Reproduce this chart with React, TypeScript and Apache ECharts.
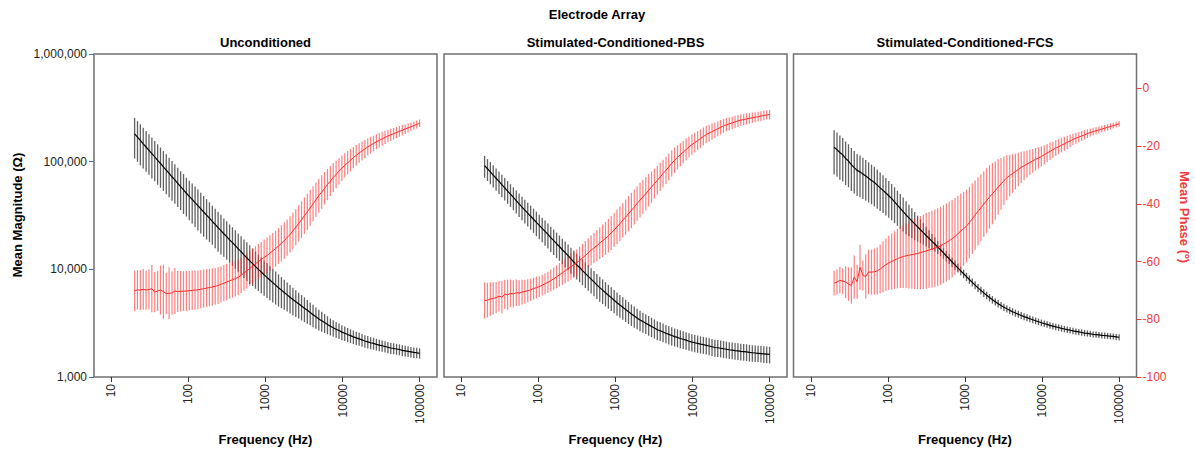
import { useEffect, useRef } from 'react';
import * as echarts from 'echarts';

// Frequencies (Hz)
const freq = [
  20, 21.8, 23.75, 25.88, 28.21, 30.74, 33.5, 36.51, 39.79, 43.36,
  47.27, 51.5, 56.1, 61.2, 66.6, 72.6, 79.2, 86.3, 94.0, 102.5,
  111.8, 121.8, 132.7, 144.6, 157.6, 171.9, 187.3, 204.1, 222.4, 242.4,
  264.2, 287.9, 313.8, 342.0, 372.7, 406.2, 442.7, 482.4, 525.8, 573.0,
  624.5, 680.5, 741.7, 808.3, 880.8, 960.2, 1046, 1140, 1243, 1354,
  1476, 1609, 1753, 1910, 2082, 2269, 2473, 2695, 2937, 3201,
  3490, 3802, 4143, 4515, 4921, 5368, 5850, 6375, 6948, 7571,
  8252, 8993, 9800, 10680, 11640, 12680, 13820, 15060, 16420, 17890,
  19500, 21250, 23160, 25240, 27500, 29990, 32680, 35610, 38810, 42290,
  46100, 50240, 54750, 59670, 65020, 70870, 77240, 84170, 91730, 100000,
];

// Unconditioned
const p1Mag = [
  181000, 168700, 157400, 146600, 136800, 127400, 118600, 110700, 103000, 96200,
  89500, 83400, 77800, 72400, 67600, 63000, 58600, 54700, 50900, 47600,
  44600, 41700, 39000, 36500, 34100, 31900, 29900, 27900, 26100, 24400,
  22900, 21400, 20100, 18800, 17700, 16600, 15500, 14600, 13600, 12800,
  12000, 11300, 10600, 10000, 9440, 8890, 8410, 7960, 7530, 7130,
  6750, 6410, 6100, 5790, 5510, 5240, 5000, 4780, 4560, 4360,
  4160, 3970, 3790, 3620, 3460, 3330, 3200, 3080, 2960, 2870,
  2780, 2700, 2610, 2550, 2480, 2420, 2360, 2310, 2260, 2210,
  2160, 2120, 2080, 2050, 2010, 1980, 1950, 1920, 1890, 1860,
  1840, 1820, 1800, 1770, 1750, 1730, 1710, 1690, 1680, 1660,
];
const p1MagSd = [
  74000, 69000, 65000, 60000, 56000, 52000, 49000, 45000, 42000, 39000,
  36000, 33500, 31000, 29000, 27000, 25000, 23000, 22000, 20000, 19000,
  18000, 17000, 16000, 15000, 14000, 13000, 12000, 11000, 10400, 9800,
  9200, 8300, 7800, 7300, 6900, 6500, 6000, 5700, 5300, 5000,
  4700, 4300, 4000, 3700, 3450, 3200, 3000, 2800, 2600, 2420,
  2230, 2050, 1890, 1740, 1630, 1520, 1400, 1290, 1210, 1130,
  1040, 950, 890, 810, 760, 700, 640, 590, 530, 500,
  470, 445, 420, 395, 370, 355, 340, 325, 312, 300,
  287, 278, 268, 260, 251, 244, 238, 232, 227, 221,
  217, 213, 209, 205, 201, 197, 193, 189, 186, 183,
];
const p1Phase = [
  -70.2, -69.8, -69.9, -69.6, -69.9, -69.7, -69.4, -70.6, -70.2, -69.9,
  -70.4, -71.1, -71.0, -70.9, -70.2, -70.4, -70.3, -70.3, -70.2, -70.1,
  -70.0, -69.9, -69.8, -69.6, -69.4, -69.2, -69.0, -68.8, -68.6, -68.3,
  -67.9, -67.5, -67.1, -66.7, -66.3, -65.9, -65.5, -64.8, -64.0, -63.2,
  -62.4, -61.6, -60.8, -60.0, -59.3, -58.6, -57.9, -57.1, -56.3, -55.5,
  -54.6, -53.7, -52.7, -51.7, -50.6, -49.4, -48.1, -46.8, -45.5, -44.1,
  -42.8, -41.4, -40.0, -38.6, -37.2, -35.9, -34.6, -33.3, -32.1, -30.9,
  -29.8, -28.7, -27.7, -26.7, -25.8, -24.9, -24.0, -23.2, -22.4, -21.7,
  -21.0, -20.3, -19.7, -19.1, -18.5, -18.0, -17.5, -17.0, -16.5, -16.1,
  -15.7, -15.3, -14.9, -14.5, -14.1, -13.7, -13.3, -12.9, -12.5, -12.1,
];
const p1PhaseSd = [
  7.0, 6.8, 6.9, 7.0, 6.8, 6.9, 8.2, 7.0, 6.9, 8.5,
  9.3, 7.2, 9.0, 7.5, 8.0, 7.1, 7.0, 6.9, 6.9, 6.8,
  6.8, 6.8, 6.7, 6.7, 6.6, 6.6, 6.5, 6.5, 6.4, 6.4,
  6.3, 6.3, 6.3, 6.2, 6.2, 6.2, 6.2, 6.1, 6.1, 6.1,
  6.1, 6.1, 6.1, 6.1, 6.1, 6.2, 6.2, 6.2, 6.2, 6.2,
  6.2, 6.3, 6.3, 6.3, 6.3, 6.3, 6.3, 6.3, 6.3, 6.3,
  6.3, 6.2, 6.1, 6.0, 5.9, 5.8, 5.6, 5.4, 5.2, 5.0,
  4.8, 4.6, 4.4, 4.2, 4.0, 3.9, 3.7, 3.6, 3.4, 3.3,
  3.1, 3.0, 2.9, 2.7, 2.6, 2.5, 2.4, 2.3, 2.2, 2.1,
  2.0, 1.9, 1.85, 1.8, 1.7, 1.6, 1.5, 1.45, 1.4, 1.3,
];

// Stimulated-Conditioned-PBS
const p2Mag = [
  92000, 85900, 80400, 75000, 70100, 65500, 61100, 57100, 53300, 49900,
  46600, 43500, 40600, 37900, 35500, 33300, 31100, 29200, 27300, 25600,
  24000, 22500, 21100, 19700, 18500, 17300, 16300, 15200, 14300, 13400,
  12500, 11700, 11000, 10400, 9730, 9160, 8610, 8110, 7640, 7180,
  6760, 6410, 6070, 5750, 5460, 5160, 4900, 4670, 4450, 4230,
  4030, 3850, 3690, 3540, 3390, 3270, 3160, 3050, 2950, 2850,
  2750, 2690, 2620, 2550, 2490, 2430, 2370, 2330, 2280, 2240,
  2200, 2150, 2110, 2080, 2050, 2020, 2000, 1970, 1940, 1910,
  1880, 1870, 1850, 1830, 1810, 1790, 1780, 1760, 1750, 1730,
  1720, 1710, 1690, 1680, 1670, 1660, 1650, 1640, 1630, 1620,
];
const p2MagSd = [
  21200, 19800, 18700, 17500, 16400, 15400, 14400, 13500, 12700, 11900,
  11200, 10500, 9900, 9300, 8800, 8300, 7800, 7400, 7000, 6600,
  6200, 5900, 5500, 5200, 4900, 4600, 4300, 4060, 3830, 3600,
  3380, 3160, 2970, 2800, 2610, 2450, 2290, 2150, 2020, 1880,
  1760, 1650, 1540, 1440, 1350, 1260, 1190, 1120, 1050, 990,
  930, 870, 820, 770, 725, 687, 657, 628, 602, 576,
  550, 533, 516, 497, 483, 467, 453, 443, 431, 419,
  407, 396, 386, 381, 373, 366, 360, 355, 347, 342,
  335, 333, 329, 326, 322, 318, 316, 312, 310, 306,
  304, 302, 298, 296, 294, 292, 290, 288, 286, 284,
];
const p2Phase = [
  -73.5, -73.4, -73.0, -72.8, -72.5, -72.0, -72.3, -71.4, -71.5, -71.0,
  -71.2, -70.8, -70.9, -70.6, -70.4, -70.1, -69.8, -69.4, -69.0, -68.7,
  -68.2, -67.7, -67.2, -66.6, -66.0, -65.3, -64.6, -63.9, -63.2, -62.5,
  -61.8, -61.1, -60.4, -59.6, -58.8, -57.9, -57.0, -56.1, -55.3, -54.5,
  -53.6, -52.8, -52.0, -51.1, -50.1, -49.1, -48.0, -46.9, -45.7, -44.6,
  -43.4, -42.3, -41.1, -39.9, -38.7, -37.6, -36.5, -35.3, -34.2, -33.0,
  -31.9, -30.7, -29.5, -28.4, -27.2, -26.0, -24.9, -23.9, -23.0, -22.1,
  -21.2, -20.3, -19.5, -18.8, -18.1, -17.4, -16.7, -16.0, -15.5, -15.0,
  -14.5, -14.0, -13.5, -13.0, -12.6, -12.3, -12.0, -11.6, -11.3, -11.0,
  -10.8, -10.6, -10.4, -10.2, -10.0, -9.8, -9.6, -9.4, -9.2, -9.1,
];
const p2PhaseSd = [
  6.2, 6.0, 5.8, 5.6, 5.4, 5.3, 5.6, 5.0, 5.2, 4.8,
  4.7, 4.6, 4.4, 4.3, 4.1, 4.0, 3.9, 3.8, 3.7, 3.6,
  3.6, 3.6, 3.7, 3.8, 3.9, 4.0, 4.1, 4.2, 4.3, 4.4,
  4.5, 4.6, 4.7, 4.8, 4.9, 5.0, 5.1, 5.2, 5.3, 5.4,
  5.5, 5.6, 5.7, 5.8, 5.9, 5.9, 6.0, 6.0, 6.0, 6.1,
  6.1, 6.1, 6.1, 6.0, 6.0, 5.9, 5.8, 5.6, 5.4, 5.2,
  5.0, 4.9, 4.8, 4.7, 4.6, 4.5, 4.4, 4.2, 4.0, 3.9,
  3.8, 3.6, 3.5, 3.4, 3.3, 3.2, 3.1, 3.0, 2.9, 2.8,
  2.7, 2.6, 2.5, 2.4, 2.3, 2.25, 2.2, 2.1, 2.05, 2.0,
  1.95, 1.9, 1.85, 1.8, 1.75, 1.7, 1.7, 1.65, 1.6, 1.6,
];

// Stimulated-Conditioned-FCS
const p3Mag = [
  136000, 129400, 121600, 115600, 107200, 101400, 93800, 88100, 83000, 80400,
  76900, 73500, 70100, 67000, 64000, 60500, 57100, 54100, 51100, 48200,
  45300, 42400, 39500, 36900, 34400, 32100, 30100, 28200, 26400, 24800,
  23300, 21900, 20600, 19400, 18200, 17200, 16100, 15200, 14200, 13300,
  12500, 11700, 11000, 10300, 9680, 9100, 8550, 8040, 7570, 7130,
  6730, 6370, 6040, 5740, 5470, 5220, 5000, 4800, 4610, 4450,
  4300, 4160, 4040, 3930, 3830, 3730, 3640, 3560, 3480, 3400,
  3330, 3260, 3190, 3130, 3080, 3020, 2970, 2920, 2880, 2830,
  2790, 2750, 2720, 2680, 2650, 2620, 2590, 2560, 2540, 2520,
  2490, 2480, 2460, 2440, 2430, 2410, 2390, 2380, 2360, 2340,
];
const p3MagSd = [
  59800, 56900, 53500, 50300, 46600, 43600, 40300, 37400, 34900, 33800,
  31900, 30100, 28400, 26800, 25600, 23900, 22300, 20800, 19400, 18100,
  16800, 15500, 14200, 13100, 12000, 10900, 9800, 8700, 7700, 6700,
  5800, 5000, 4300, 3700, 3090, 2670, 2250, 1950, 1680, 1460,
  1300, 1170, 1070, 970, 890, 820, 750, 700, 650, 606,
  565, 529, 495, 465, 438, 418, 395, 379, 360, 347,
  331, 320, 307, 299, 287, 280, 269, 263, 254, 248,
  240, 235, 226, 222, 216, 211, 208, 201, 199, 195,
  190, 187, 185, 180, 178, 176, 171, 169, 168, 166,
  162, 161, 160, 159, 158, 157, 155, 155, 153, 152,
];
const p3Phase = [
  -67.5, -67.1, -66.5, -66.8, -67.1, -67.8, -68.3, -65.4, -67.0, -62.0,
  -64.8, -65.2, -63.6, -63.7, -63.5, -63.3, -62.6, -61.8, -61.1, -60.5,
  -60.0, -59.5, -59.0, -58.6, -58.3, -58.0, -57.8, -57.6, -57.4, -57.2,
  -56.9, -56.6, -56.3, -56.0, -55.7, -55.4, -55.0, -54.5, -54.0, -53.4,
  -52.8, -52.1, -51.3, -50.4, -49.4, -48.6, -47.7, -46.5, -45.2, -43.9,
  -42.6, -41.4, -40.1, -38.9, -37.6, -36.5, -35.4, -34.2, -33.1, -32.0,
  -31.0, -30.2, -29.5, -28.8, -28.1, -27.4, -26.8, -26.2, -25.7, -25.1,
  -24.6, -24.1, -23.6, -23.0, -22.4, -21.8, -21.3, -20.7, -20.2, -19.7,
  -19.2, -18.7, -18.2, -17.7, -17.3, -16.9, -16.5, -16.1, -15.7, -15.3,
  -15.0, -14.7, -14.4, -14.1, -13.8, -13.5, -13.2, -12.9, -12.6, -12.3,
];
const p3PhaseSd = [
  4.3, 4.4, 4.6, 4.5, 5.5, 5.8, 6.3, 7.5, 5.9, 7.8,
  5.2, 7.6, 7.7, 7.8, 8.0, 8.2, 8.5, 8.8, 9.1, 9.4,
  9.7, 10.0, 10.3, 10.6, 10.9, 11.2, 11.5, 11.8, 12.1, 12.4,
  12.7, 12.9, 13.1, 13.2, 13.3, 13.4, 13.5, 13.5, 13.5, 13.5,
  13.5, 13.4, 13.3, 13.2, 13.0, 12.8, 12.6, 12.4, 12.2, 12.0,
  11.8, 11.6, 11.4, 11.2, 11.0, 10.6, 10.1, 9.6, 9.0, 8.4,
  7.8, 7.2, 6.7, 6.2, 5.8, 5.4, 5.0, 4.7, 4.4, 4.1,
  3.9, 3.7, 3.5, 3.3, 3.1, 3.0, 2.8, 2.7, 2.6, 2.5,
  2.4, 2.3, 2.1, 2.0, 1.9, 1.8, 1.7, 1.6, 1.5, 1.4,
  1.35, 1.3, 1.25, 1.2, 1.15, 1.1, 1.1, 1.05, 1.0, 1.0,
];

const panelTitles = ['Unconditioned', 'Stimulated-Conditioned-PBS', 'Stimulated-Conditioned-FCS'];
const xTickValues = [10, 100, 1000, 10000, 100000];
const magTickValues = [1000, 10000, 100000, 1000000];
const phaseTickValues = [-100, -80, -60, -40, -20, 0];

const panels = [
  { mag: p1Mag, magSd: p1MagSd, phase: p1Phase, phaseSd: p1PhaseSd },
  { mag: p2Mag, magSd: p2MagSd, phase: p2Phase, phaseSd: p2PhaseSd },
  { mag: p3Mag, magSd: p3MagSd, phase: p3Phase, phaseSd: p3PhaseSd },
];

const FONT = '"Liberation Sans", Arial, Helvetica, sans-serif';
const RED = '#f23a3a';
const GRID_LEFTS = [94, 444, 793.5];
const GRID_TOP = 54;
const GRID_W = 343;
const GRID_H = 323;

function errorBarRenderer(color: string, width: number) {
  return (params: any, api: any) => {
    const x = api.value(0);
    const a = api.coord([x, api.value(1)]);
    const b = api.coord([x, api.value(2)]);
    return {
      type: 'line',
      shape: { x1: a[0], y1: a[1], x2: b[0], y2: b[1] },
      style: { stroke: color, lineWidth: width },
    };
  };
}

export default function App() {
  const ref = useRef<HTMLDivElement>(null);

  useEffect(() => {
    if (!ref.current) return;
    const chart = echarts.init(ref.current, undefined, { renderer: 'svg' });

    const grid = GRID_LEFTS.map((left) => ({
      left,
      top: GRID_TOP,
      width: GRID_W,
      height: GRID_H,
      show: true,
      borderColor: '#707070',
      borderWidth: 1.5,
      backgroundColor: 'transparent',
    }));

    const xAxis = GRID_LEFTS.map((_, i) => ({
      type: 'log',
      logBase: 10,
      gridIndex: i,
      position: 'bottom',
      min: 5.943,
      max: 168270,
      axisLine: { show: false, onZero: false },
      splitLine: { show: false },
      axisTick: { show: true, length: 5, customValues: xTickValues, lineStyle: { color: '#333', width: 1 } },
      axisLabel: {
        customValues: xTickValues,
        rotate: 90,
        margin: 7,
        fontSize: 12,
        color: '#222',
        fontFamily: FONT,
        formatter: (v: number) => String(Math.round(v)),
      },
    }));

    const yAxis: any[] = [];
    GRID_LEFTS.forEach((_, i) => {
      yAxis.push({
        type: 'log',
        logBase: 10,
        gridIndex: i,
        position: 'left',
        min: 1000,
        max: 1000000,
        axisLine: { show: false, onZero: false },
        splitLine: { show: false },
        axisTick: { show: i === 0, length: 5, customValues: magTickValues, lineStyle: { color: '#4a68c8', width: 1 } },
        axisLabel: {
          show: i === 0,
          customValues: magTickValues,
          margin: 7,
          fontSize: 12,
          color: '#222',
          fontFamily: FONT,
          formatter: (v: number) => Math.round(v).toLocaleString('en-US'),
        },
      });
      yAxis.push({
        type: 'value',
        gridIndex: i,
        position: 'right',
        min: -100,
        max: 11.9,
        axisLine: { show: false, onZero: false },
        splitLine: { show: false },
        axisTick: { show: i === 2, length: 5, customValues: phaseTickValues, lineStyle: { color: RED, width: 1 } },
        axisLabel: {
          show: i === 2,
          customValues: phaseTickValues,
          margin: 6,
          fontSize: 12,
          color: RED,
          fontFamily: FONT,
        },
      });
    });

    const series: any[] = [];
    panels.forEach((p, i) => {
      series.push({
        type: 'custom',
        xAxisIndex: i,
        yAxisIndex: 2 * i,
        z: 1,
        clip: true,
        renderItem: errorBarRenderer('rgba(0,0,0,0.62)', 1.3),
        data: freq.map((f, k) => [f, p.mag[k] - p.magSd[k], p.mag[k] + p.magSd[k]]),
      });
      series.push({
        type: 'custom',
        xAxisIndex: i,
        yAxisIndex: 2 * i + 1,
        z: 2,
        clip: true,
        renderItem: errorBarRenderer('rgba(255,40,40,0.6)', 1.2),
        data: freq.map((f, k) => [f, p.phase[k] - p.phaseSd[k], p.phase[k] + p.phaseSd[k]]),
      });
      series.push({
        type: 'line',
        xAxisIndex: i,
        yAxisIndex: 2 * i,
        z: 3,
        symbol: 'none',
        showSymbol: false,
        lineStyle: { color: '#000', width: 1.2 },
        data: freq.map((f, k) => [f, p.mag[k]]),
      });
      series.push({
        type: 'line',
        xAxisIndex: i,
        yAxisIndex: 2 * i + 1,
        z: 4,
        symbol: 'none',
        showSymbol: false,
        lineStyle: { color: '#ff2a2a', width: 1 },
        data: freq.map((f, k) => [f, p.phase[k]]),
      });
    });

    const titleStyle = { fontSize: 13, fontWeight: 'bold', color: '#000', fontFamily: FONT };
    const title: any[] = [
      { text: 'Electrode Array', left: 597, top: 8, textAlign: 'center', padding: 0, textStyle: titleStyle },
    ];
    GRID_LEFTS.forEach((left, i) => {
      const cx = left + GRID_W / 2;
      title.push({ text: panelTitles[i], left: cx, top: 36, textAlign: 'center', padding: 0, textStyle: titleStyle });
      title.push({ text: 'Frequency (Hz)', left: cx, top: 433, textAlign: 'center', padding: 0, textStyle: titleStyle });
    });

    chart.setOption({
      animation: false,
      backgroundColor: '#fff',
      title,
      grid,
      xAxis,
      yAxis,
      series,
      graphic: [
        {
          type: 'text',
          x: 17,
          y: 215,
          rotation: Math.PI / 2,
          style: {
            text: 'Mean Magnitude (Ω)',
            align: 'center',
            verticalAlign: 'middle',
            fill: '#000',
            font: `bold 13px ${FONT}`,
          },
        },
        {
          type: 'text',
          x: 1184,
          y: 217,
          rotation: -Math.PI / 2,
          style: {
            text: 'Mean Phase (º)',
            align: 'center',
            verticalAlign: 'middle',
            fill: RED,
            font: `bold 13px ${FONT}`,
          },
        },
      ],
    });

    return () => chart.dispose();
  }, []);

  return <div ref={ref} style={{ position: 'absolute', left: 0, top: 0, width: 1195, height: 450 }} />;
}
